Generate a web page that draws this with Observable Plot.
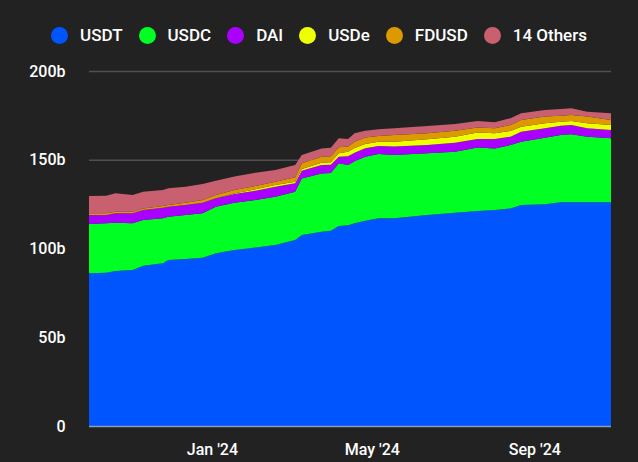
<!DOCTYPE html>
<html>
<head>
<meta charset="utf-8">
<script src="https://cdn.jsdelivr.net/npm/d3@7"></script>
<script src="https://cdn.jsdelivr.net/npm/@observablehq/plot@0.6"></script>
<style>
html, body { margin: 0; padding: 0; background: #222222; }
body { width: 638px; height: 462px; overflow: hidden; position: relative; font-family: Roboto, "Noto Sans", sans-serif; }
#legend { position: absolute; top: 0; left: 0; width: 638px; height: 70px; display: flex; justify-content: center; align-items: center; color: #ffffff; font-size: 17px; font-weight: 500; }
.item { display: flex; align-items: center; margin: 0 8px; }
.dot { width: 17px; height: 17px; border-radius: 50%; margin-right: 12px; }
#chart { position: absolute; top: 60px; left: 0; }
</style>
</head>
<body>
<div id="legend"></div>
<div id="chart"></div>
<script>
const seriesNames = ["USDT", "USDC", "DAI", "USDe", "FDUSD", "14 Others"];
const seriesColors = ["#0055ff", "#00ff22", "#aa00ff", "#eeff00", "#dd9900", "#c8606f"];

const dates = ["2023-09-30","2023-10-13","2023-10-20","2023-11-02","2023-11-10","2023-11-25","2023-11-29","2023-12-12","2023-12-25","2024-01-04","2024-01-18","2024-02-03","2024-02-18","2024-03-04","2024-03-09","2024-03-24","2024-03-31","2024-04-06","2024-04-13","2024-04-18","2024-04-26","2024-05-06","2024-05-18","2024-06-12","2024-07-03","2024-07-20","2024-08-02","2024-08-14","2024-08-22","2024-09-09","2024-09-21","2024-09-29","2024-10-11","2024-10-29"];

const usdt   = [86.0,86.4,87.3,87.9,90.3,91.7,93.5,94.1,94.8,97.3,99.2,100.5,102.0,104.8,107.6,109.5,110.0,112.7,113.1,114.2,115.7,117.0,117.0,118.9,120.2,121.1,121.7,122.6,124.5,124.9,126.0,126.0,126.0,126.0];
const usdc   = [27.8,27.8,27.2,26.3,25.8,25.3,24.4,24.8,25.0,26.2,26.6,26.8,27.2,27.2,31.9,32.8,32.5,35.3,33.9,35.0,36.0,36.2,35.7,34.7,34.3,35.8,34.7,35.7,35.7,37.5,37.9,38.3,37.0,36.1];
const dai    = [5.1,4.7,5.3,5.6,5.6,6.0,5.6,5.6,6.0,4.8,4.9,5.3,5.6,4.7,4.3,4.7,4.7,3.7,5.0,4.8,4.8,4.5,4.7,4.7,5.1,4.8,5.3,4.7,5.6,5.3,5.3,5.3,4.7,4.7];
const usde   = [0,0,0,0,0,0,0,0,0,0,0.3,0.8,1.0,0.9,1.0,1.3,1.4,1.9,2.5,2.6,2.4,2.5,2.8,3.2,3.4,3.7,3.2,3.2,2.8,2.8,2.2,2.2,2.8,2.8];
const fdusd  = [0.9,0.9,0.9,0.9,0.9,0.9,1.0,1.3,1.5,1.8,2.0,1.8,1.8,2.5,3.2,3.4,3.4,3.4,3.0,3.6,3.6,3.2,3.7,3.4,3.4,2.8,2.8,3.4,3.8,3.8,3.4,3.4,3.8,2.8];
const others = [9.8,9.9,10.4,9.4,9.4,9.1,9.4,9.0,9.0,8.1,7.5,7.5,6.6,6.9,4.7,4.7,4.7,5.1,4.2,4.7,3.9,3.8,3.8,4.1,3.7,3.6,3.4,3.8,3.8,3.7,3.8,3.8,2.8,3.8];

const yTicks = [0, 50, 100, 150, 200];
const xTicks = ["2024-01-01", "2024-05-01", "2024-09-01"];

const seriesValues = [usdt, usdc, dai, usde, fdusd, others];
const data = [];
seriesNames.forEach((name, i) => {
  dates.forEach((d, j) => {
    data.push({date: new Date(d), series: name, value: seriesValues[i][j]});
  });
});

// legend
const legend = document.getElementById("legend");
seriesNames.forEach((name, i) => {
  const item = document.createElement("div");
  item.className = "item";
  const dot = document.createElement("span");
  dot.className = "dot";
  dot.style.background = seriesColors[i];
  const label = document.createElement("span");
  label.textContent = name;
  item.appendChild(dot);
  item.appendChild(label);
  legend.appendChild(item);
});

const chart = Plot.plot({
  width: 638,
  height: 402,
  marginTop: 11,
  marginBottom: 36,
  marginLeft: 89,
  marginRight: 27,
  style: {background: "#222222", color: "#ffffff", fontFamily: "Roboto, 'Noto Sans', sans-serif", fontSize: "16px", fontWeight: 500},
  x: {type: "utc", domain: [new Date(dates[0]), new Date(dates[dates.length - 1])]},
  y: {domain: [0, 200]},
  color: {domain: seriesNames, range: seriesColors},
  marks: [
    Plot.ruleY(yTicks.slice(1), {stroke: "#505050", strokeWidth: 1.5}),
    Plot.areaY(data, {x: "date", y: "value", fill: "series", z: "series", order: seriesNames}),
    Plot.ruleY([0], {stroke: "#8a9cb8", strokeWidth: 1.5}),
    Plot.axisY({ticks: yTicks, tickSize: 0, tickPadding: 24, tickFormat: d => d === 0 ? "0" : d + "b", label: null}),
    Plot.axisX({ticks: xTicks.map(d => new Date(d)), tickSize: 0, tickPadding: 17, tickFormat: d3.utcFormat("%b '%y"), label: null})
  ]
});
document.getElementById("chart").appendChild(chart);
</script>
</body>
</html>
